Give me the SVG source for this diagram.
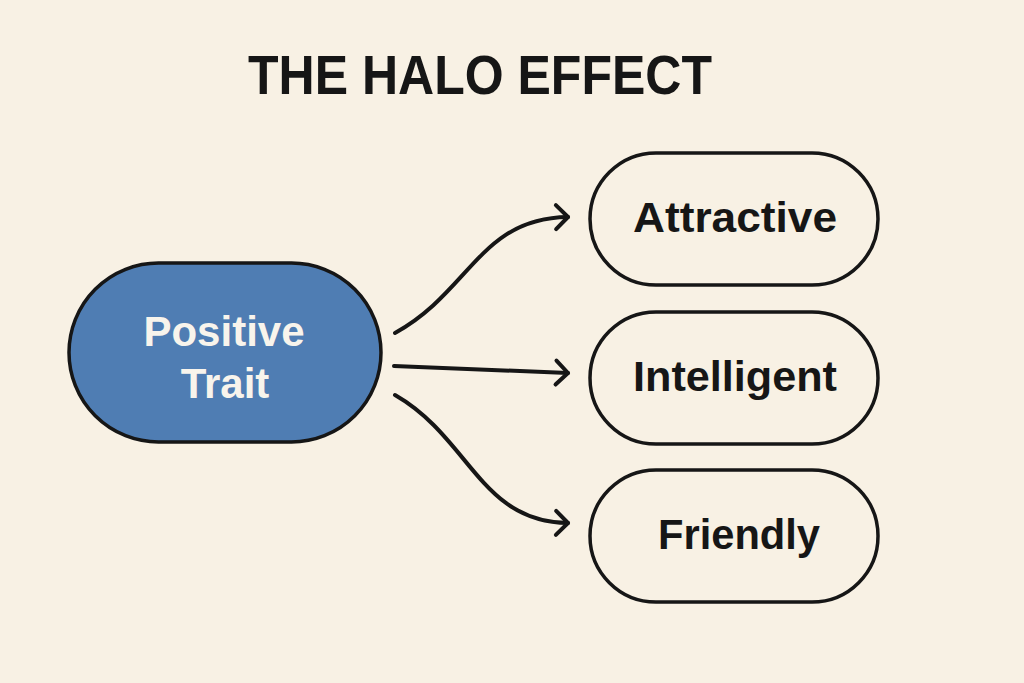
<svg xmlns="http://www.w3.org/2000/svg" width="1024" height="683" viewBox="0 0 1024 683">
  <style>
    .bg { fill: #f8f1e4; }
    .node { fill: none; stroke: #161616; stroke-width: 3.5; }
    .main { fill: #4f7db3; stroke: #161616; stroke-width: 3.5; }
    .lbl { font-family: "Liberation Sans", Arial, sans-serif; font-weight: bold; font-size: 43px; fill: #161616; text-anchor: middle; }
    .mainlbl { font-family: "Liberation Sans", Arial, sans-serif; font-weight: bold; font-size: 42px; fill: #f8f4ec; text-anchor: middle; }
    .title { font-family: "Liberation Sans", Arial, sans-serif; font-weight: bold; font-size: 55px; fill: #161616; text-anchor: middle; }
    .edge { fill: none; stroke: #161616; stroke-width: 4; stroke-linecap: round; }
  </style>
  <defs>
    <marker id="chev" markerUnits="userSpaceOnUse" viewBox="-16 -16 20 32" markerWidth="20" markerHeight="32" refX="0" refY="0" orient="auto">
      <path d="M-12,-12 L0,0 L-12,12" fill="none" stroke="#161616" stroke-width="4" stroke-linecap="round" stroke-linejoin="round"/>
    </marker>
  </defs>
  <rect class="bg" x="0" y="0" width="1024" height="683"/>
  <text class="title" x="480" y="94" textLength="464" lengthAdjust="spacingAndGlyphs">THE HALO EFFECT</text>

  <g id="positive-trait">
    <rect class="main" x="69" y="263" width="312" height="179" rx="89.5"/>
    <text class="mainlbl" x="224" y="346">Positive</text>
    <text class="mainlbl" x="225" y="398">Trait</text>
  </g>
  <g id="attractive">
    <rect class="node" x="590" y="153" width="288" height="132" rx="66"/>
    <text class="lbl" x="735" y="232" textLength="204" lengthAdjust="spacingAndGlyphs">Attractive</text>
  </g>
  <g id="intelligent">
    <rect class="node" x="590" y="312" width="288" height="132" rx="66"/>
    <text class="lbl" x="735" y="391" textLength="204" lengthAdjust="spacingAndGlyphs">Intelligent</text>
  </g>
  <g id="friendly">
    <rect class="node" x="590" y="470" width="288" height="132" rx="66"/>
    <text class="lbl" x="739" y="549" textLength="162" lengthAdjust="spacingAndGlyphs">Friendly</text>
  </g>

  <g id="connectors">
    <path class="edge" d="M395,333 C470,292 480,218 568,217" marker-end="url(#chev)"/>
    <path class="edge" d="M394,366 L568,373" marker-end="url(#chev)"/>
    <path class="edge" d="M395,395 C470,438 480,522 568,523" marker-end="url(#chev)"/>
  </g>
</svg>
